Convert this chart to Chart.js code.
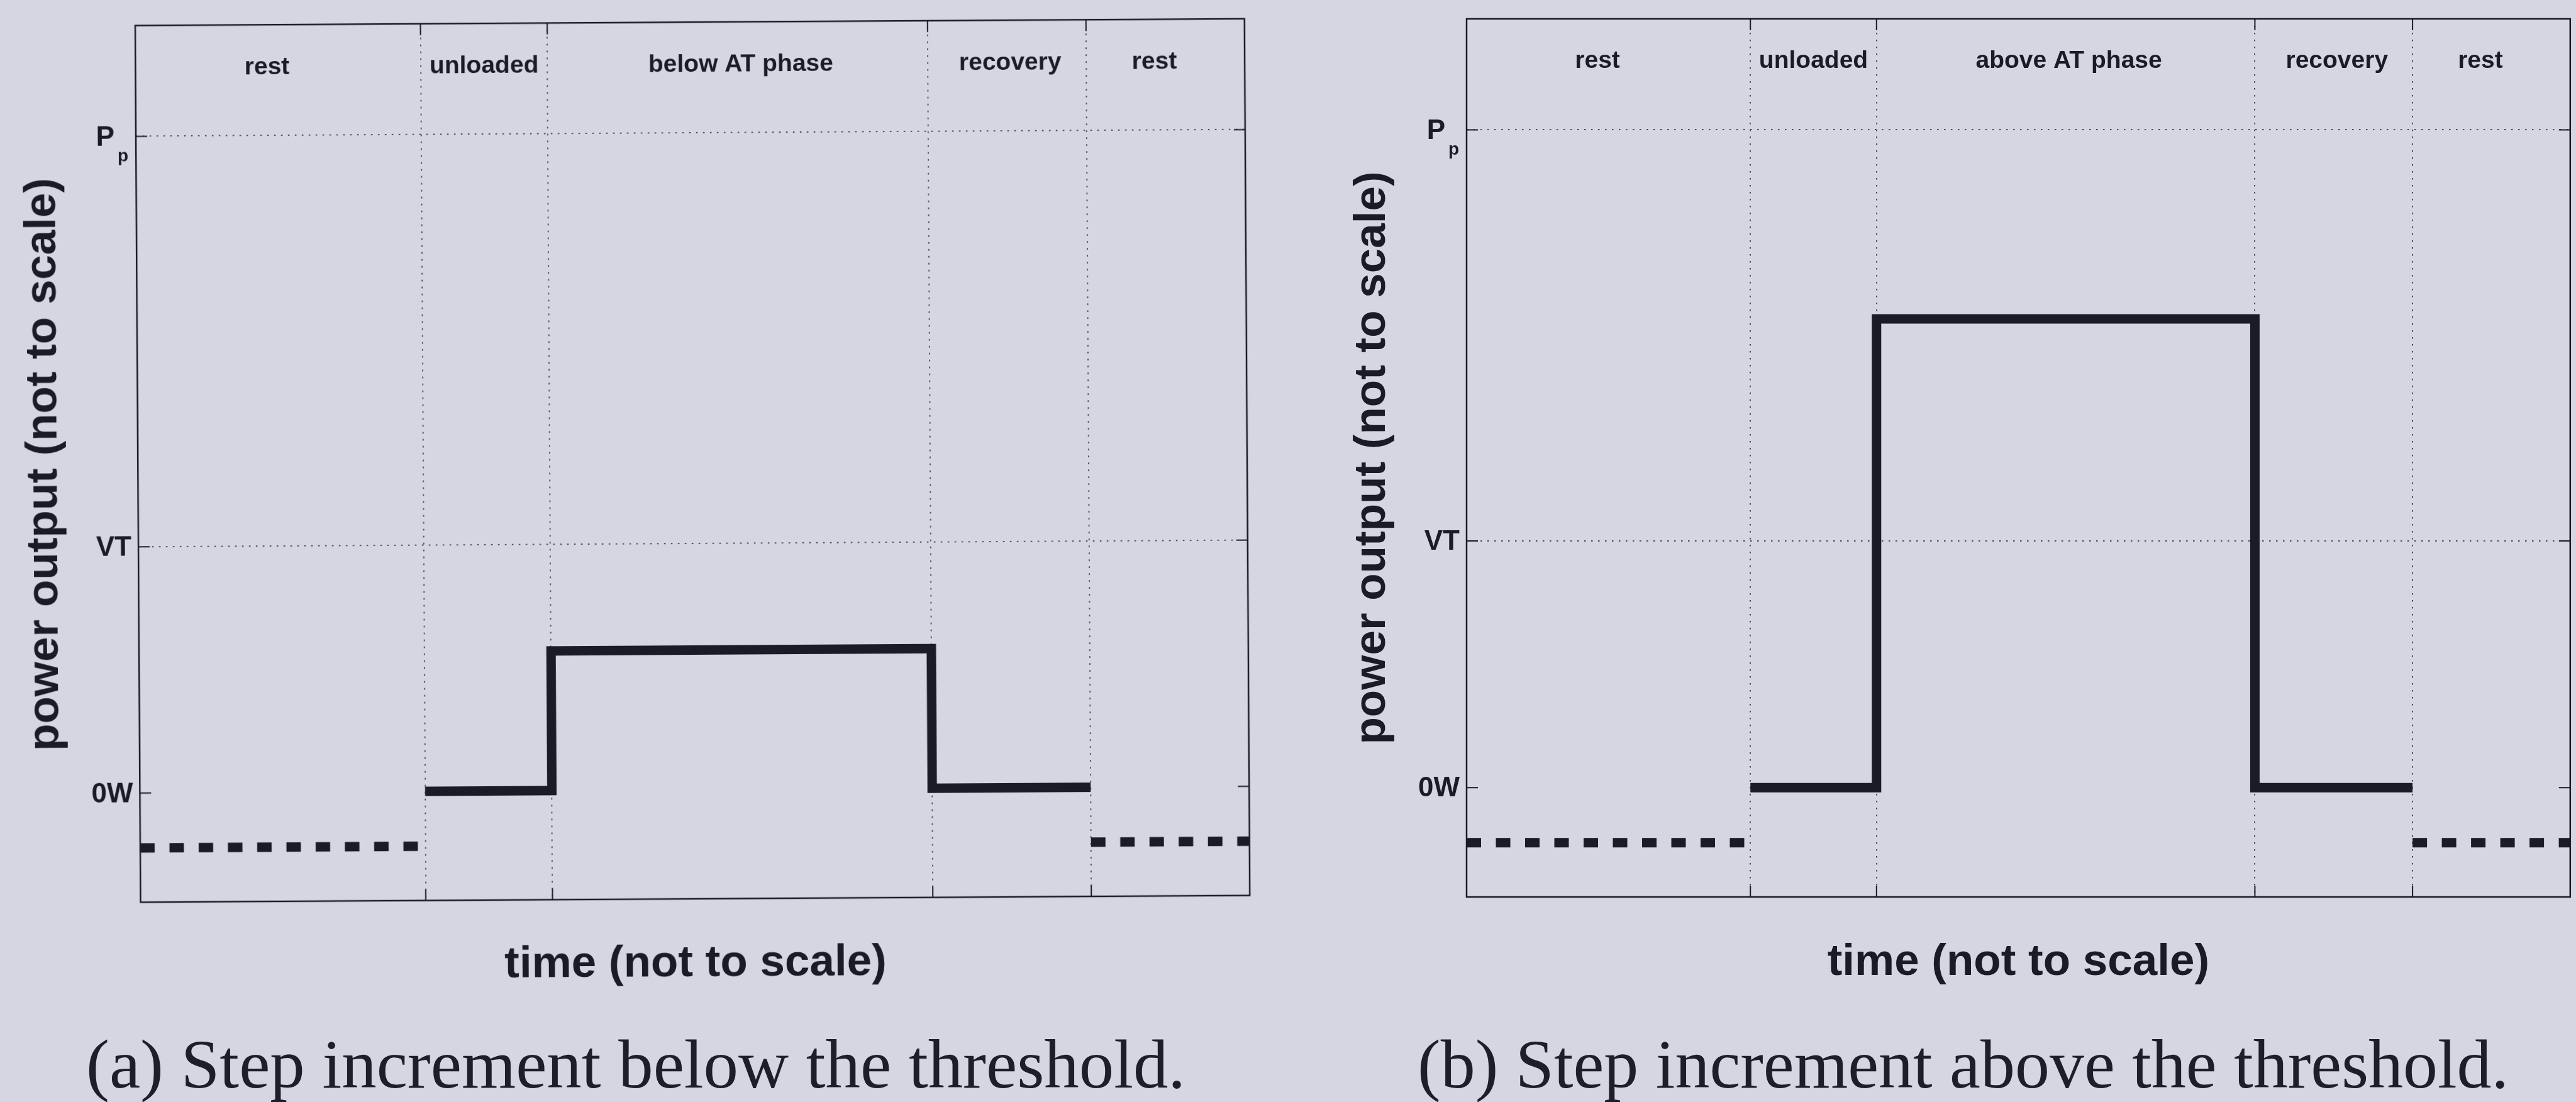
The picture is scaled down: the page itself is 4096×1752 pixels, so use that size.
<!DOCTYPE html>
<html>
<head>
<meta charset="utf-8">
<script src="https://cdn.jsdelivr.net/npm/chart.js@4.4.1/dist/chart.umd.min.js"></script>
<style>
  html, body { margin: 0; padding: 0; background: #d5d6e2; }
  body { width: 4096px; height: 1752px; position: relative; overflow: hidden; }
  canvas { position: absolute; top: 0; }
  #chartA { left: 0; transform: rotate(-0.35deg); transform-origin: 1101px 732px; }
  #chartB { left: 2048px; }
  .caption {
    position: absolute;
    font-family: 'Liberation Serif', 'Times New Roman', serif;
    font-size: 110px;
    line-height: 110px;
    color: #1d1d2b;
    white-space: nowrap;
    transform-origin: 0 0;
  }
</style>
</head>
<body>
<canvas id="chartA" width="2048" height="1620"></canvas>
<canvas id="chartB" width="2048" height="1620"></canvas>
<div class="caption" id="capA" style="left:137px; top:1637px;">(a) Step increment below the threshold.</div>
<div class="caption" id="capB" style="left:2254px; top:1637px;">(b) Step increment above the threshold.</div>
<script>
// time axis (not to scale): phase boundaries
const phaseEdges = [1.8, 2.6, 5.0, 6.0];
const timeMax = 7;

// power levels marked on the y axis: 0W, VT, Pp
const levelValues = [0, 3, 8];
const levelLabels = ['0W', 'VT', 'P'];
const levelSubs = ['', '', 'p'];
const powerMin = -1.33, powerMax = 9.35;

// step profile
const stepTime = [1.8, 2.6, 2.6, 5.0, 5.0, 6.0];
const stepBelow = [0, 0, 1.7, 1.7, 0, 0];
const stepAbove = [0, 0, 5.7, 5.7, 0, 0];

// resting level, dashed, before and after
const restLeftTime = [0, 1.8];
const restRightTime = [6.0, 7.0];
const restPower = [-0.67, -0.67];

// phase names along the top
const phaseBelow = ['rest', 'unloaded', 'below AT phase', 'recovery', 'rest'];
const phaseAbove = ['rest', 'unloaded', 'above AT phase', 'recovery', 'rest'];
const phaseLabelX = [0.83, 2.2, 3.82, 5.52, 6.43];
const phaseLabelY = 8.75;

const ink = '#1b1b28';
const gridInk = '#4a4a5a';
const sans = "'Liberation Sans', Arial, Helvetica, sans-serif";

Chart.defaults.font.family = sans;
Chart.defaults.color = ink;

function toPoints(xs, ys) {
    return xs.map((x, i) => ({ x: x, y: ys[i] }));
}

// box round the plot, inward ticks, y tick labels and phase names
const framePlugin = {
    id: 'frame',
    afterDraw(chart, args, opts) {
        const { ctx, chartArea: a, scales: { x, y } } = chart;
        ctx.save();
        ctx.strokeStyle = ink;
        ctx.lineWidth = 2.5;
        ctx.strokeRect(a.left, a.top, a.right - a.left, a.bottom - a.top);

        const tick = 18;
        ctx.lineWidth = 2;
        ctx.beginPath();
        levelValues.forEach(v => {
            const py = y.getPixelForValue(v);
            ctx.moveTo(a.left, py); ctx.lineTo(a.left + tick, py);
            ctx.moveTo(a.right, py); ctx.lineTo(a.right - tick, py);
        });
        phaseEdges.forEach(v => {
            const px = x.getPixelForValue(v);
            ctx.moveTo(px, a.bottom); ctx.lineTo(px, a.bottom - tick);
            ctx.moveTo(px, a.top); ctx.lineTo(px, a.top + tick);
        });
        ctx.stroke();

        // tick labels
        ctx.fillStyle = ink;
        ctx.textAlign = 'right';
        levelValues.forEach((v, i) => {
            const py = y.getPixelForValue(v);
            if (levelSubs[i]) {
                ctx.textBaseline = 'alphabetic';
                ctx.font = 'bold 44px ' + sans;
                ctx.fillText(levelLabels[i], a.left - 34, py + 15);
                ctx.font = 'bold 28px ' + sans;
                ctx.fillText(levelSubs[i], a.left - 12, py + 40);
            } else {
                ctx.textBaseline = 'middle';
                ctx.font = 'bold 44px ' + sans;
                ctx.fillText(levelLabels[i], a.left - 11, py + 2);
            }
        });

        // phase names
        ctx.font = 'bold 39px ' + sans;
        ctx.textAlign = 'center';
        ctx.textBaseline = 'alphabetic';
        opts.names.forEach((name, i) => {
            ctx.fillText(name, x.getPixelForValue(phaseLabelX[i]), y.getPixelForValue(phaseLabelY));
        });
        ctx.restore();
    }
};

function makeChart(id, stepPower, names, pad) {
    const lineStyle = {
        borderColor: ink,
        borderWidth: 15,
        pointRadius: 0,
        tension: 0,
        borderCapStyle: 'butt',
        borderJoinStyle: 'miter',
        fill: false
    };
    return new Chart(document.getElementById(id), {
        type: 'line',
        data: {
            datasets: [
                Object.assign({ data: toPoints(stepTime, stepPower) }, lineStyle),
                Object.assign({ data: toPoints(restLeftTime, restPower), borderDash: [23, 23.5] }, lineStyle),
                Object.assign({ data: toPoints(restRightTime, restPower), borderDash: [23, 23.5] }, lineStyle)
            ]
        },
        options: {
            responsive: false,
            animation: false,
            devicePixelRatio: 1,
            layout: { autoPadding: false, padding: { left: 0, top: pad.top, right: pad.right, bottom: 0 } },
            plugins: {
                legend: { display: false },
                tooltip: { enabled: false },
                frame: { names: names }
            },
            scales: {
                x: {
                    type: 'linear',
                    min: 0,
                    max: timeMax,
                    afterBuildTicks: s => { s.ticks = phaseEdges.map(v => ({ value: v })); },
                    ticks: { display: false },
                    grid: { color: gridInk, lineWidth: 2, drawTicks: false },
                    border: { display: false, dash: [2.5, 8.5] },
                    title: {
                        display: true,
                        text: 'time (not to scale)',
                        color: ink,
                        font: { size: 71, weight: 'bold' },
                        padding: { top: pad.xTop, bottom: pad.xBottom }
                    }
                },
                y: {
                    type: 'linear',
                    min: powerMin,
                    max: powerMax,
                    afterBuildTicks: s => { s.ticks = levelValues.map(v => ({ value: v })); },
                    ticks: { display: false },
                    grid: {
                        color: c => (c.tick && c.tick.value === 0) ? 'rgba(0,0,0,0)' : gridInk,
                        lineWidth: 2,
                        drawTicks: false
                    },
                    border: { display: false, dash: [2.5, 8.5] },
                    title: {
                        display: true,
                        text: 'power output (not to scale)',
                        color: ink,
                        font: { size: 71, weight: 'bold' },
                        padding: { top: pad.yTop, bottom: pad.yBottom }
                    }
                }
            }
        },
        plugins: [framePlugin]
    });
}

makeChart('chartA', stepBelow, phaseBelow,
    { top: 35.2, right: 65, xTop: 60.4, xBottom: 45.4, yTop: 28, yBottom: 106 });
makeChart('chartB', stepAbove, phaseAbove,
    { top: 30, right: 9.2, xTop: 61.4, xBottom: 47.4, yTop: 92, yBottom: 106.8 });

// stretch the captions to their set widths
function fitCaption(id, width) {
    const el = document.getElementById(id);
    const c = document.createElement('canvas').getContext('2d');
    c.font = "110px 'Liberation Serif', 'Times New Roman', serif";
    const w = c.measureText(el.textContent).width;
    el.style.transform = 'scaleX(' + (width / w).toFixed(4) + ')';
}
fitCaption('capA', 1748);
fitCaption('capB', 1735);
</script>
</body>
</html>
